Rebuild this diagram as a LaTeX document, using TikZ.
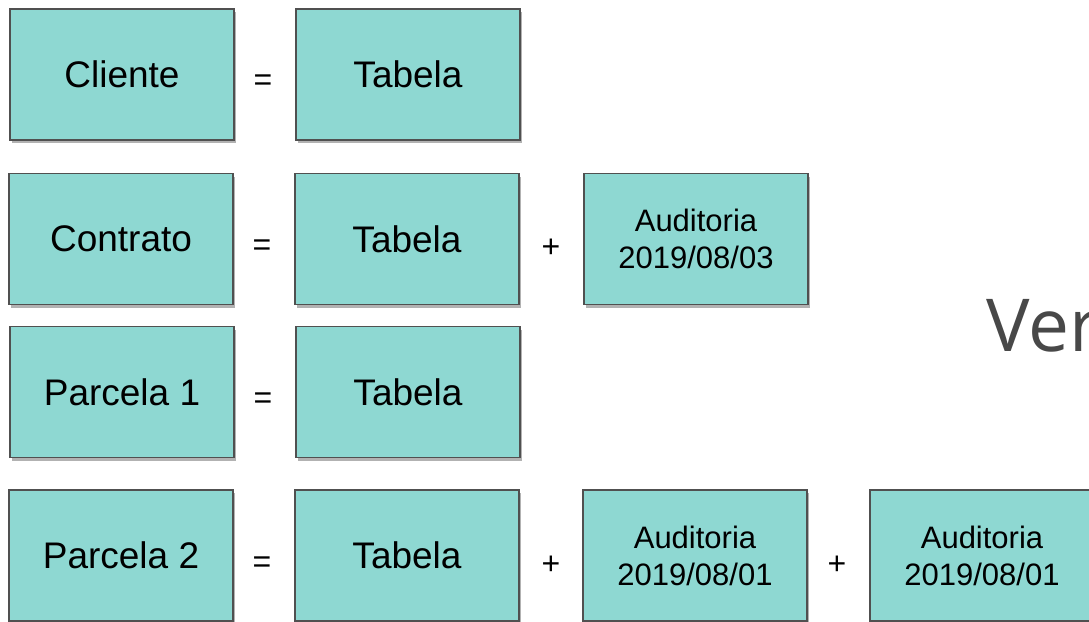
\documentclass[tikz,border=0pt]{standalone}
\usepackage{fontspec}
\setmainfont{Liberation Sans}
\newfontfamily\verfont{Open Sans}
\usetikzlibrary{shadows}
\definecolor{boxfill}{HTML}{8ED8D2}
\definecolor{boxline}{HTML}{505050}
\definecolor{vergray}{HTML}{484848}
\tikzset{
  ent/.style={draw=boxline, line width=1.5pt, fill=boxfill, minimum width=224pt, minimum height=131pt, inner sep=0pt,
    drop shadow={shadow xshift=2pt, shadow yshift=-3pt, opacity=0.3, fill=black},
    font=\fontsize{37}{40}\selectfont},
  aud/.style={ent, align=center, font=\fontsize{31}{37}\selectfont},
  op/.style={inner sep=0pt, font=\fontsize{32}{36}\selectfont}
}
\begin{document}
\begin{tikzpicture}[x=1pt,y=-1pt]
\useasboundingbox (0,0) rectangle (1089,621);
% row 1
\node[ent] (cli) at (122,74.5) {Cliente};
\node[op] (eq1) at (263,83) {=};
\node[ent] (tab1) at (408,74.5) {Tabela};
% row 2
\node[ent] (con) at (121,239) {Contrato};
\node[op] (eq2) at (262,248) {=};
\node[ent] (tab2) at (407,239) {Tabela};
\node[op] (pl2) at (551,248) {+};
\node[aud] (aud2) at (696,239) {Auditoria\\2019/08/03};
% row 3
\node[ent] (par1) at (122,392) {Parcela 1};
\node[op] (eq3) at (263,401) {=};
\node[ent] (tab3) at (408,392) {Tabela};
% row 4
\node[ent] (par2) at (121,555.5) {Parcela 2};
\node[op] (eq4) at (262,565) {=};
\node[ent] (tab4) at (407,555.5) {Tabela};
\node[op] (pl4a) at (551,565) {+};
\node[aud] (aud4a) at (695,555.5) {Auditoria\\2019/08/01};
\node[op] (pl4b) at (837,565) {+};
\node[aud] (aud4b) at (982,555.5) {Auditoria\\2019/08/01};
% title fragment
\node[anchor=base west, inner sep=0pt, text=vergray, font=\verfont\fontsize{73}{75}\selectfont] (ver) at (986,351) {Ver};
\end{tikzpicture}
\end{document}
